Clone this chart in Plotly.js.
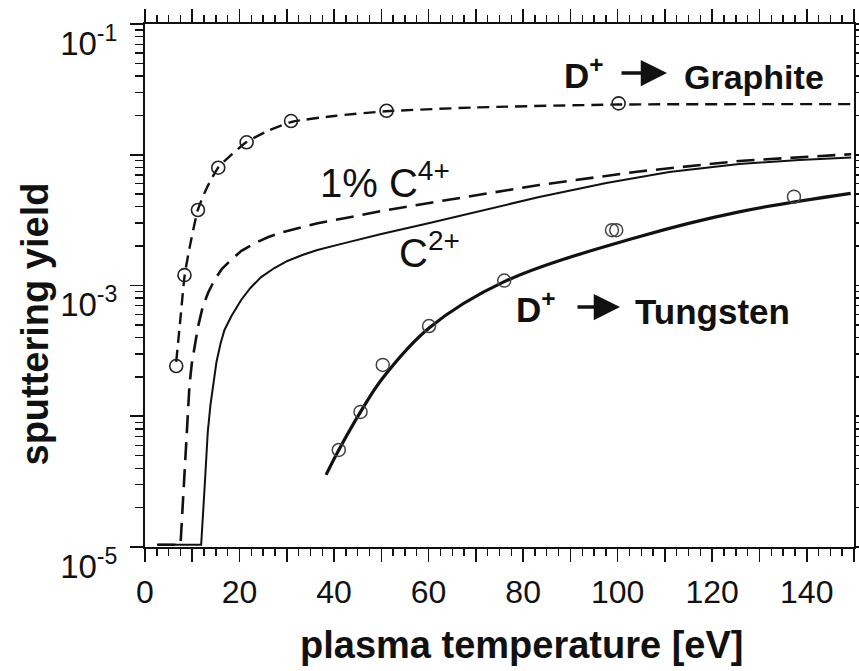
<!DOCTYPE html>
<html>
<head>
<meta charset="utf-8">
<script src="https://cdn.plot.ly/plotly-3.0.1.min.js"></script>
<style>html,body{margin:0;padding:0;background:#fff;}#chart{width:859px;height:671px;}</style>
</head>
<body>
<div id="chart"></div>
<script>
// ---- data (plasma temperature [eV] vs sputtering yield) ----
const graphiteDataT = [6.6, 8.35, 11.2, 15.5, 21.5, 30.9, 51.1, 100.2];
const graphiteDataY = [2.42e-4, 1.20e-3, 3.78e-3, 7.96e-3, 1.245e-2, 1.81e-2, 2.17e-2, 2.47e-2];
const graphiteFitT = [6.6, 7.5, 8.4, 9.5, 11.2, 13, 15.5, 18, 21.5, 26, 31, 40, 51, 70, 100, 150];
const graphiteFitY = [2.6e-4, 5.6e-4, 1.2e-3, 2.0e-3, 3.8e-3, 5.5e-3, 8.0e-3, 9.8e-3, 1.25e-2, 1.52e-2, 1.78e-2, 1.98e-2, 2.15e-2, 2.3e-2, 2.42e-2, 2.44e-2];

const c4T = [2.6, 7.51, 8.46, 9.41, 9.89, 10.47, 11.21, 12.22, 13.42, 14.69, 16.28, 18.22, 20.40, 23.15, 26.11, 29.49, 36.53, 42.18, 50.0, 60.15, 70.7, 83.4, 104.5, 125.7, 149.4];
const c4Y = [1.04e-5, 1.04e-5, 4.24e-5, 1.73e-4, 2.51e-4, 3.40e-4, 4.82e-4, 6.89e-4, 8.92e-4, 1.10e-3, 1.34e-3, 1.57e-3, 1.84e-3, 2.10e-3, 2.35e-3, 2.58e-3, 2.99e-3, 3.27e-3, 3.71e-3, 4.28e-3, 4.92e-3, 5.87e-3, 7.45e-3, 8.96e-3, 1.01e-2];

const c2T = [2.6, 11.88, 12.58, 13.28, 13.85, 14.48, 15.12, 15.96, 16.81, 18.29, 20.34, 22.30, 24.57, 27.38, 30.13, 33.30, 36.47, 42.2, 50.0, 60.2, 70.7, 83.4, 97.6, 110.9, 125.7, 138.4, 149.4];
const c2Y = [1.04e-5, 1.04e-5, 2.73e-5, 7.57e-5, 1.22e-4, 1.83e-4, 2.60e-4, 3.57e-4, 4.57e-4, 5.85e-4, 7.75e-4, 9.57e-4, 1.16e-3, 1.36e-3, 1.54e-3, 1.71e-3, 1.87e-3, 2.11e-3, 2.48e-3, 3.01e-3, 3.71e-3, 4.75e-3, 6.08e-3, 7.38e-3, 8.49e-3, 9.12e-3, 9.53e-3];

const tungDataT = [41.0, 45.6, 50.3, 60.1, 76.0, 98.8, 99.7, 137.3];
const tungDataY = [5.52e-5, 1.08e-4, 2.47e-4, 4.90e-4, 1.09e-3, 2.65e-3, 2.65e-3, 4.78e-3];
const tungFitT = [38.3, 41.0, 45.6, 50.3, 60.1, 76.0, 104.5, 125.7, 149.3];
const tungFitY = [3.56e-5, 5.52e-5, 1.08e-4, 1.96e-4, 4.73e-4, 1.07e-3, 2.36e-3, 3.66e-3, 5.07e-3];

const yTickVals = [1e-5, 1e-4, 1e-3, 1e-2, 1e-1];
const yTickText = ['10<sup>-5</sup>', '', '10<sup>-3</sup>', '', '10<sup>-1</sup>'];

// ---- styling helpers ----
const INK = '#111';
const FONT = 'Liberation Sans, Arial, Helvetica, sans-serif';
const yMinor = [];
for (let e = -5; e < -1; e++) for (let m = 2; m <= 9; m++) yMinor.push(m * Math.pow(10, e));
const L = 145, R = 854, T = 24, B = 547;
const px = v => (v - L) / (R - L);
const py = v => (B - v) / (B - T);

const traces = [
  {x: graphiteFitT, y: graphiteFitY, mode: 'lines', line: {color: INK, width: 2.4, dash: '12px,7px', shape: 'spline', smoothing: 0.6}},
  {x: graphiteDataT, y: graphiteDataY, mode: 'markers', marker: {symbol: 'circle-open', size: 13, color: '#222', line: {width: 1.6, color: '#222'}}},
  {x: c4T, y: c4Y, mode: 'lines', line: {color: INK, width: 2.6, dash: '18px,9px', shape: 'linear'}},
  {x: c2T, y: c2Y, mode: 'lines', line: {color: INK, width: 2, shape: 'linear'}},
  {x: tungFitT, y: tungFitY, mode: 'lines', line: {color: INK, width: 3.2, shape: 'spline', smoothing: 1}},
  {x: tungDataT, y: tungDataY, mode: 'markers', marker: {symbol: 'circle-open', size: 13, color: '#444', line: {width: 1.5, color: '#444'}}}
];

const txt = (x, y, text, size, bold, extra) => Object.assign({
  xref: 'paper', yref: 'paper', x: px(x), y: py(y), text: bold ? '<b>' + text + '</b>' : text,
  showarrow: false, xanchor: 'left', yanchor: 'middle',
  font: {family: FONT, size: size, color: INK}
}, extra || {});

// label with arrow: text centred at the tail, arrow head at (xTip, yTip)
const arrowLabel = (text, xTip, yTip, xText, gap) => ({
  xref: 'paper', yref: 'paper', x: px(xTip), y: py(yTip), ax: xText - xTip, ay: 0,
  text: '<b>' + text + '</b>', font: {family: FONT, size: 35, color: INK},
  showarrow: true, arrowhead: 2, arrowsize: 1.5, arrowwidth: 3.5, arrowcolor: INK,
  standoff: 0, startstandoff: gap
});

const layout = {
  width: 859, height: 671,
  margin: {l: L, r: 859 - R, t: T, b: 671 - B},
  paper_bgcolor: '#fff', plot_bgcolor: '#fff',
  showlegend: false,
  font: {family: FONT, color: INK},
  xaxis: {
    range: [0, 150], tickmode: 'linear', tick0: 0, dtick: 10, ticklabelstep: 2,
    ticks: 'outside', ticklen: 13, tickwidth: 1.6, tickcolor: INK,
    showline: true, linewidth: 2, linecolor: INK, mirror: 'ticks',
    showgrid: false, zeroline: false,
    tickfont: {family: FONT, size: 32, color: INK},
    ticklabelstandoff: 3,
    minor: {dtick: 2.5, tick0: 0, ticks: 'outside', ticklen: 7, tickwidth: 1.4, tickcolor: INK, showgrid: false}
  },
  yaxis: {
    type: 'log', range: [-5, -1], tickmode: 'array', tickvals: yTickVals, ticktext: yTickText,
    ticks: 'outside', ticklen: 13, tickwidth: 1.6, tickcolor: INK,
    showline: true, linewidth: 2, linecolor: INK, mirror: 'ticks',
    showgrid: false, zeroline: false,
    tickfont: {family: FONT, size: 33, color: INK},
    ticklabelshift: 19, ticklabelstandoff: 6,
    minor: {tickmode: 'array', tickvals: yMinor, ticks: 'outside', ticklen: 8, tickwidth: 1.4, tickcolor: INK, showgrid: false}
  },
  annotations: [
    txt(521.5, 645, 'plasma temperature [eV]', 38, true, {xanchor: 'center'}),
    txt(34, 324.5, 'sputtering yield', 38, true, {xanchor: 'center', textangle: -90}),
    arrowLabel('D<sup>+</sup>', 667, 73, 584, 16),
    txt(682, 77, 'Graphite', 34, true),
    txt(318, 180, '1% C<sup>4+</sup>', 40, false),
    txt(397, 250, 'C<sup>2+</sup>', 40, false),
    arrowLabel('D<sup>+</sup>', 620, 307, 536, 20),
    txt(633, 311, 'Tungsten', 35, true)
  ]
};

Plotly.newPlot('chart', traces, layout, {staticPlot: true, displayModeBar: false});
</script>
</body>
</html>
